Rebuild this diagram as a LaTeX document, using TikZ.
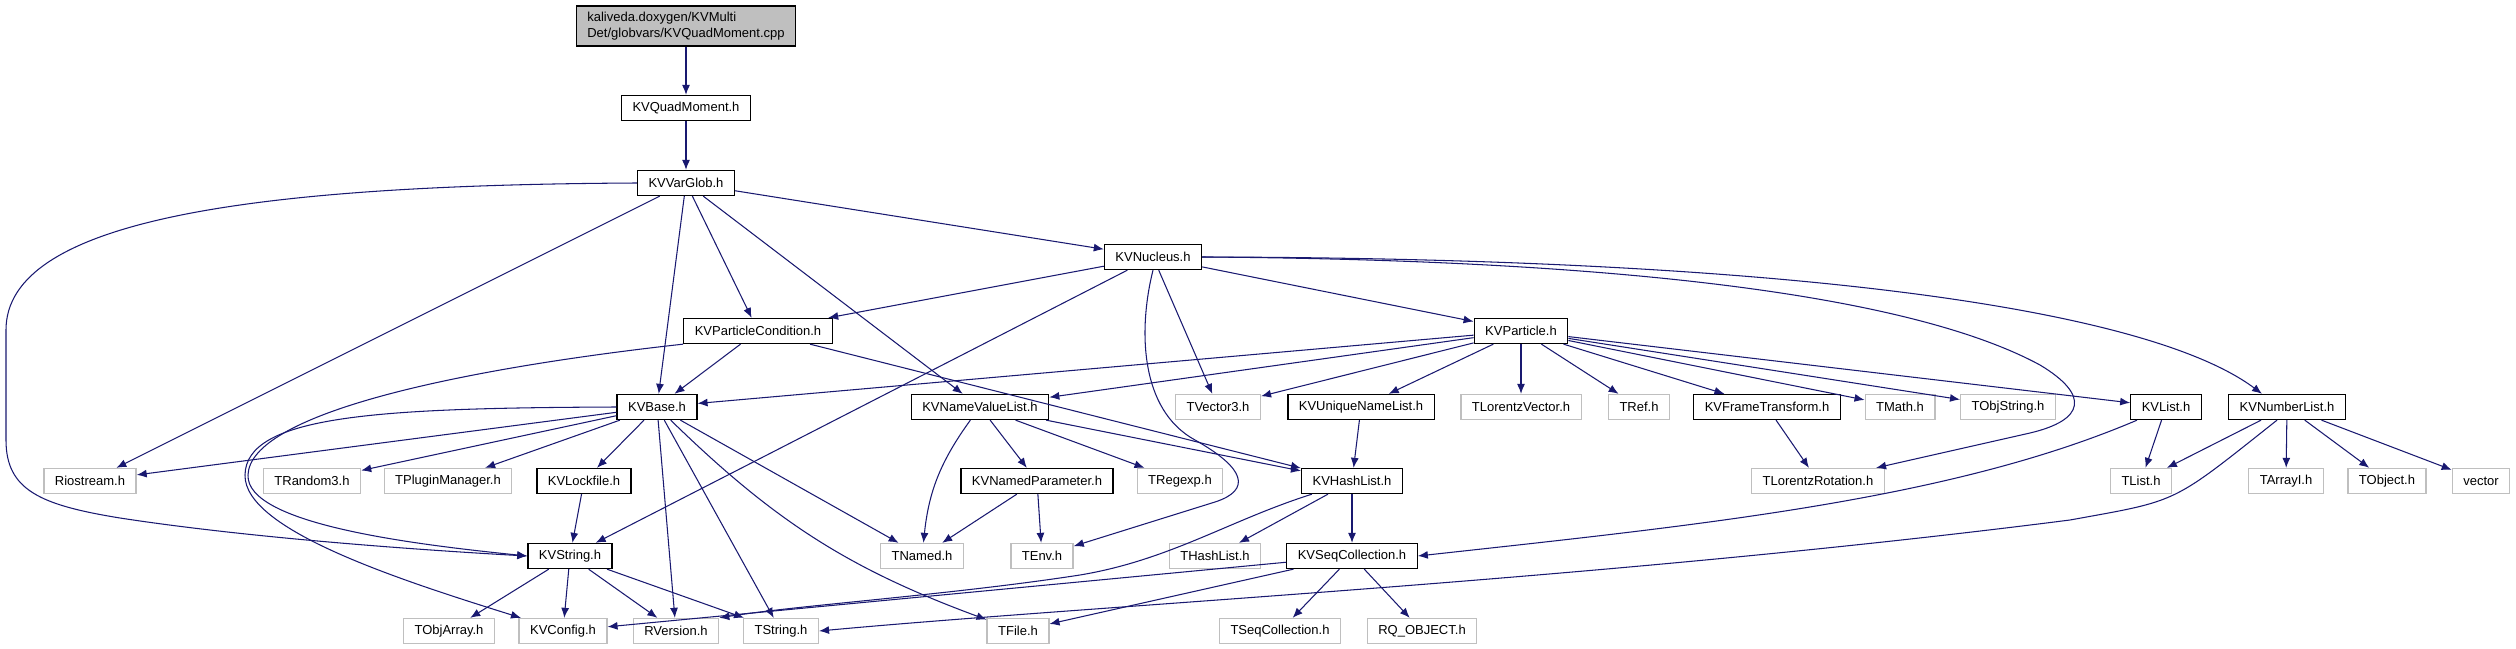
\documentclass[tikz,border=0pt]{standalone}
\usepackage{fontspec}
\setmainfont{Liberation Sans}
\usetikzlibrary{arrows.meta}
\definecolor{linkblue}{HTML}{191970}
\definecolor{undoc}{HTML}{BFBFBF}
\begin{document}
\begin{tikzpicture}[x=.02cm,y=-.02cm,font=\fontsize{7.4}{8.8}\selectfont,
box/.style={draw=#1,fill=white,line width=.75pt,minimum height=.5cm,inner xsep=.22cm,inner ysep=0pt},
arrow/.style={-{Latex[length=2mm,width=1.6mm]},line width=.6pt,draw=linkblue}]
\useasboundingbox (0,0) rectangle (2516,649);
\node[box=black,fill=undoc,align=left,minimum height=.8cm] (src) at (686,26) {kaliveda.doxygen/KVMulti\\Det/globvars/KVQuadMoment.cpp};
\node[box=black] (quad) at (686,108) {KVQuadMoment.h};
\node[box=black] (glob) at (686,183) {KVVarGlob.h};
\node[box=black] (nucl) at (1153,257) {KVNucleus.h};
\node[box=black] (pcond) at (758,331) {KVParticleCondition.h};
\node[box=black] (part) at (1521,331) {KVParticle.h};
\node[box=black] (base) at (657,407) {KVBase.h};
\node[box=black] (nvlist) at (980,407) {KVNameValueList.h};
\node[box=undoc] (tvec) at (1218,407) {TVector3.h};
\node[box=black] (uniq) at (1361,407) {KVUniqueNameList.h};
\node[box=undoc] (tlvec) at (1521,407) {TLorentzVector.h};
\node[box=undoc] (tref) at (1639,407) {TRef.h};
\node[box=black] (frame) at (1767,407) {KVFrameTransform.h};
\node[box=undoc] (tmath) at (1900,407) {TMath.h};
\node[box=undoc] (tostr) at (2008,407) {TObjString.h};
\node[box=black] (kvlist) at (2166,407) {KVList.h};
\node[box=black] (numlist) at (2287,407) {KVNumberList.h};
\node[box=undoc] (rio) at (90,481) {Riostream.h};
\node[box=undoc] (trand) at (312,481) {TRandom3.h};
\node[box=undoc] (tplug) at (448,481) {TPluginManager.h};
\node[box=black] (lock) at (584,481) {KVLockfile.h};
\node[box=black] (npar) at (1037,481) {KVNamedParameter.h};
\node[box=undoc] (tregx) at (1180,481) {TRegexp.h};
\node[box=black] (hlist) at (1352,481) {KVHashList.h};
\node[box=undoc] (tlrot) at (1818,481) {TLorentzRotation.h};
\node[box=undoc] (tlist) at (2141,481) {TList.h};
\node[box=undoc] (tarr) at (2286,481) {TArrayI.h};
\node[box=undoc] (tobj) at (2387,481) {TObject.h};
\node[box=undoc] (vect) at (2481,481) {vector};
\node[box=black] (kvstr) at (570,556) {KVString.h};
\node[box=undoc] (tnamed) at (922,556) {TNamed.h};
\node[box=undoc] (tenv) at (1042,556) {TEnv.h};
\node[box=undoc] (thash) at (1215,556) {THashList.h};
\node[box=black] (kvseq) at (1352,556) {KVSeqCollection.h};
\node[box=undoc] (toarr) at (449,631) {TObjArray.h};
\node[box=undoc] (kvcfg) at (563,631) {KVConfig.h};
\node[box=undoc] (rver) at (676,631) {RVersion.h};
\node[box=undoc] (tstr) at (781,631) {TString.h};
\node[box=undoc] (tfile) at (1018,631) {TFile.h};
\node[box=undoc] (tseq) at (1280,631) {TSeqCollection.h};
\node[box=undoc] (rqobj) at (1422,631) {RQ\_OBJECT.h};
\draw[arrow] (src)--(quad);
\draw[arrow] (quad)--(glob);
\draw[arrow] (glob)--(nucl);
\draw[arrow] (glob.west) .. controls (250,185) and (6,220) .. (6,330) -- (6,440) .. controls (6,490) and (40,505) .. (120,518) .. controls (250,538) and (420,550) .. (kvstr.west);
\draw[arrow] (glob)--(rio);
\draw[arrow] (glob)--(base);
\draw[arrow] (glob)--(pcond);
\draw[arrow] (glob)--(nvlist);
\draw[arrow] (nucl)--(pcond);
\draw[arrow] (nucl)--(kvstr);
\draw[arrow] (nucl.south) .. controls (1138,330) and (1140,410) .. (1195,440) .. controls (1245,468) and (1252,490) .. (1215,502) -- (tenv);
\draw[arrow] (nucl)--(tvec);
\draw[arrow] (nucl)--(part);
\draw[arrow] (nucl.east) .. controls (1800,258) and (2150,310) .. ([xshift=-.5cm]numlist.north);
\draw[arrow] (nucl.east) .. controls (1650,260) and (1920,300) .. (2040,365) .. controls (2090,395) and (2085,420) .. (2030,433) -- (tlrot);
\draw[arrow] (pcond)--(base);
\draw[arrow] (pcond.south west) .. controls (450,370) and (250,415) .. (248,475) .. controls (246,525) and (420,545) .. (kvstr.west);
\draw[arrow] (pcond)--(hlist);
\draw[arrow] (part)--(base);
\draw[arrow] (part)--(nvlist);
\draw[arrow] (part)--(tvec);
\draw[arrow] (part)--(uniq);
\draw[arrow] (part)--(tlvec);
\draw[arrow] (part)--(tref);
\draw[arrow] (part)--(frame);
\draw[arrow] (part)--(tmath);
\draw[arrow] (part)--(tostr);
\draw[arrow] (part)--(kvlist);
\draw[arrow] (base)--(rio);
\draw[arrow] (base)--(trand);
\draw[arrow] (base)--(tplug);
\draw[arrow] (base)--(lock);
\draw[arrow] (base.west) .. controls (380,408) and (246,415) .. (245,475) .. controls (244,530) and (400,580) .. ([xshift=.05cm]kvcfg.north west);
\draw[arrow] (base)--(rver);
\draw[arrow] (base)--(tstr);
\draw[arrow] (base) to[bend right=12] (tfile);
\draw[arrow] (base)--(tnamed);
\draw[arrow] (nvlist) to[bend right=15] (tnamed);
\draw[arrow] (nvlist)--(npar);
\draw[arrow] (nvlist)--(tregx);
\draw[arrow] (nvlist)--(hlist);
\draw[arrow] (npar)--(tnamed);
\draw[arrow] (npar)--(tenv);
\draw[arrow] (lock)--(kvstr);
\draw[arrow] (uniq)--(hlist);
\draw[arrow] (frame)--(tlrot);
\draw[arrow] (hlist)--(kvseq);
\draw[arrow] (hlist)--(thash);
\draw[arrow] ([xshift=.22cm]hlist.south west) .. controls (1230,520) and (1170,560) .. (1080,575) .. controls (950,595) and (800,605) .. (rver.north east);
\draw[arrow] (kvstr)--(toarr);
\draw[arrow] (kvstr)--(kvcfg);
\draw[arrow] (kvstr)--(rver);
\draw[arrow] (kvstr)--(tstr);
\draw[arrow] (kvseq)--(tseq);
\draw[arrow] (kvseq)--(rqobj);
\draw[arrow] (kvseq)--(kvcfg);
\draw[arrow] (kvseq)--(tfile);
\draw[arrow] (kvlist)--(tlist);
\draw[arrow] ([xshift=-.58cm]kvlist.south) .. controls (1950,500) and (1700,525) .. (kvseq.east);
\draw[arrow] (numlist)--(tlist);
\draw[arrow] (numlist)--(tarr);
\draw[arrow] (numlist)--(tobj);
\draw[arrow] (numlist)--(vect);
\draw[arrow] ([xshift=-.2cm]numlist.south) .. controls (2170,505) and (2180,500) .. (2070,520) .. controls (1600,580) and (1100,605) .. (tstr.east);
\end{tikzpicture}
\end{document}
